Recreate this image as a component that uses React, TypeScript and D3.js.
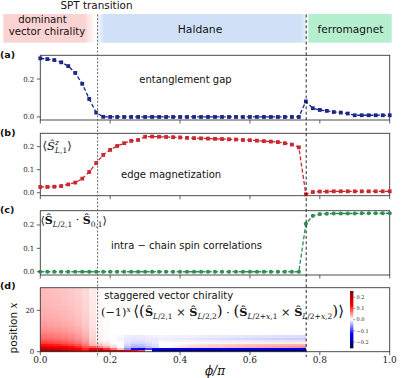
import React from 'react';
import * as d3 from 'd3';

// ---------------- data ----------------
const phi = [0, 0.02, 0.04, 0.06, 0.08, 0.1, 0.12, 0.14, 0.16, 0.18, 0.2, 0.22, 0.24, 0.26, 0.28, 0.3, 0.32, 0.34, 0.36, 0.38, 0.4, 0.42, 0.44, 0.46, 0.48, 0.5, 0.52, 0.54, 0.56, 0.58, 0.6, 0.62, 0.64, 0.66, 0.68, 0.7, 0.72, 0.74, 0.76, 0.78, 0.8, 0.82, 0.84, 0.86, 0.88, 0.9, 0.92, 0.94, 0.96, 0.98, 1.0];

const entGap = [0.309, 0.305, 0.300, 0.288, 0.268, 0.232, 0.175, 0.095, 0.023, 0.001,
  0.0, 0.0, 0.0, 0.0, 0.0, 0.0, 0.0, 0.0, 0.0, 0.0, 0.0, 0.0, 0.0, 0.0, 0.0, 0.0, 0.0, 0.0,
  0.0, 0.0, 0.0, 0.0, 0.0, 0.0, 0.0, 0.0, 0.0, 0.0,
  0.082, 0.046, 0.037, 0.032, 0.026, 0.023, 0.018, 0.009, 0.009, 0.009, 0.009, 0.009, 0.009];

const edgeMag = [0.025, 0.025, 0.026, 0.029, 0.036, 0.044, 0.061, 0.090, 0.129, 0.164,
  0.186, 0.203, 0.215, 0.225, 0.229, 0.243, 0.244, 0.243, 0.242, 0.241, 0.240, 0.238, 0.237, 0.236,
  0.235, 0.234, 0.233, 0.232, 0.231, 0.229, 0.228, 0.226, 0.224, 0.222, 0.220, 0.215, 0.209, 0.197,
  -0.007, 0.003, 0.005, 0.005, 0.006, 0.006, 0.006, 0.006, 0.006, 0.006, 0.006, 0.006, 0.006];

const spinCorr = [0, 0, 0, 0, 0, 0, 0, 0, 0, 0, 0, 0, 0, 0, 0, 0, 0, 0, 0, 0, 0, 0, 0, 0, 0, 0, 0, 0,
  0, 0, 0, 0, 0, 0, 0, 0, 0, 0,
  0.205, 0.239, 0.246, 0.248, 0.249, 0.249, 0.249, 0.249, 0.25, 0.25, 0.25, 0.25, 0.25];

// heatmap (columns start at phi[0..37], rows position 0..30)
const positions = [0, 1, 2, 3, 4, 5, 6, 7, 8, 9, 10, 11, 12, 13, 14, 15, 16, 17, 18, 19, 20, 21, 22, 23, 24, 25, 26, 27, 28, 29, 30];
const redProfile = [0.235, 0.19, 0.15, 0.12, 0.1, 0.088, 0.079, 0.072, 0.066, 0.061, 0.057, 0.054, 0.051, 0.049, 0.047, 0.045, 0.043, 0.042, 0.041, 0.040, 0.039, 0.038, 0.037, 0.036, 0.036, 0.035, 0.035, 0.034, 0.034, 0.033, 0.033];
const redAmp = [1.0, 0.97, 0.93, 0.88, 0.81, 0.72, 0.58, 0.3, 0.08, 0.03, 0.01, 0, 0, 0, 0, 0, 0, 0, 0, 0, 0, 0, 0, 0, 0, 0, 0, 0, 0, 0, 0, 0, 0, 0, 0, 0, 0, 0];
const edgeRow0 = [0, 0, 0, 0, 0, 0, 0, 0.15, 0.21, 0.2, 0.19, 0.18, 0.16, 0.14, 0.1, 0.0, -0.2,
  -0.24, -0.24, -0.24, -0.24, -0.24, -0.24, -0.24, -0.24, -0.24, -0.24, -0.24, -0.24, -0.24, -0.24, -0.24, -0.24, -0.24, -0.24, -0.24, -0.24, -0.24];
const edgeRow1 = [0, 0, 0, 0, 0, 0, 0, 0.08, 0.12, 0.1, 0.07, 0.03, -0.06, -0.12, -0.13, -0.1, -0.14,
  -0.14, -0.14, -0.14, -0.14, -0.14, -0.14, -0.14, -0.14, -0.14, -0.14, -0.14, -0.14, -0.14, -0.14, -0.14, -0.14, -0.14, -0.14, -0.14, -0.14, -0.14];
const edgeRow2 = [0, 0, 0, 0, 0, 0, 0, 0.04, 0.05, 0.04, 0.02, 0.0, -0.03, -0.04, -0.04, -0.03, -0.02,
  0.0, 0.005, 0.01, 0.015, 0.02, 0.022, 0.025, 0.028, 0.03, 0.032, 0.034, 0.036, 0.038, 0.04, 0.042, 0.044, 0.046, 0.048, 0.05, 0.052, 0.055];
const edgeRow3 = [0, 0, 0, 0, 0, 0, 0, 0, 0.02, 0.015, 0.01, 0, -0.02, -0.03, -0.03, -0.02, -0.015,
  0.0, 0.0, 0.004, 0.008, 0.012, 0.015, 0.018, 0.02, 0.022, 0.024, 0.026, 0.028, 0.03, 0.031, 0.032, 0.033, 0.034, 0.035, 0.036, 0.037, 0.038];
const edgeRow4 = [0, 0, 0, 0, 0, 0, 0, 0, 0.01, 0.01, 0, 0, -0.015, -0.02, -0.02, -0.015, -0.01,
  0.0, 0.0, 0.0, 0.002, 0.003, 0.004, 0.005, 0.006, 0.006, 0.007, 0.007, 0.008, 0.008, 0.009, 0.009, 0.01, 0.01, 0.01, 0.01, 0.01, 0.01];
const edgeRow5 = [0, 0, 0, 0, 0, 0, 0, 0, 0, 0, 0, -0.005, -0.01, -0.015, -0.015, -0.012, -0.01,
  -0.005, -0.005, -0.006, -0.006, -0.007, -0.007, -0.008, -0.008, -0.009, -0.009, -0.01, -0.01, -0.01, -0.011, -0.011, -0.012, -0.012, -0.012, -0.013, -0.013, -0.014];
const edgeRow6 = [0, 0, 0, 0, 0, 0, 0, 0, 0, 0, 0, -0.005, -0.01, -0.012, -0.012, -0.01, -0.01,
  -0.008, -0.009, -0.01, -0.011, -0.012, -0.013, -0.014, -0.015, -0.016, -0.017, -0.018, -0.019, -0.02, -0.021, -0.022, -0.022, -0.023, -0.023, -0.024, -0.024, -0.025];
const edgeRow7 = [0, 0, 0, 0, 0, 0, 0, 0, 0, 0, 0, -0.004, -0.008, -0.01, -0.01, -0.008, -0.007,
  -0.005, -0.006, -0.006, -0.007, -0.008, -0.008, -0.009, -0.01, -0.01, -0.011, -0.012, -0.012, -0.013, -0.013, -0.014, -0.014, -0.015, -0.015, -0.016, -0.016, -0.017];
const edgeRows = [edgeRow0, edgeRow1, edgeRow2, edgeRow3, edgeRow4, edgeRow5, edgeRow6, edgeRow7];

const xTicks = [0, 0.2, 0.4, 0.6, 0.8, 1.0];
const xTickLabels = ['0.0', '0.2', '0.4', '0.6', '0.8', '1.0'];
const aTicks = [0, 0.2];
const bTicks = [0, 0.1, 0.2];
const cTicks = [0, 0.1, 0.2];
const dTicks = [0, 20];
const cbTicks = [0.2, 0.1, 0, -0.1, -0.2];
const cbTickLabels = ['0.2', '0.1', '0.0', '\u22120.1', '\u22120.2'];
const sptPhi = 0.164;
const ferroPhi = 0.761;

// ---------------- layout ----------------
const SANS = 'DejaVu Sans';
const SERIF = 'DejaVu Serif';
const x = d3.scaleLinear().domain([0, 1]).range([40.3, 389.7]);
const ya = d3.scaleLinear().domain([-0.016, 0.325]).range([120, 55.3]);
const yb = d3.scaleLinear().domain([-0.013, 0.258]).range([195.7, 133.3]);
const yc = d3.scaleLinear().domain([-0.014, 0.261]).range([275, 210.7]);
const yd = d3.scaleLinear().domain([0, 31]).range([351.7, 287.7]);
const yCb = d3.scaleLinear().domain([-0.256, 0.256]).range([348.3, 291]);
const cmap = d3.scaleLinear<string>()
  .domain([-0.256, -0.128, 0, 0.128, 0.256])
  .range(['#00004c', '#0000ff', '#ffffff', '#ff0000', '#800000'])
  .interpolate(d3.interpolateRgb)
  .clamp(true);

const frame = '#3a3a3a';

function Frame({ y }: { y: d3.ScaleLinear<number, number> }) {
  const [y0, y1] = y.range();
  return (
    <rect x={x(0)} y={y1} width={x(1) - x(0)} height={y0 - y1} fill="none" stroke={frame} strokeWidth={0.9} />
  );
}

function XTicks({ y, labels }: { y: d3.ScaleLinear<number, number>; labels?: boolean }) {
  const yb0 = y.range()[0];
  return (
    <g>
      {xTicks.map((t, i) => (
        <g key={i}>
          <line x1={x(t)} x2={x(t)} y1={yb0} y2={yb0 + 3.5} stroke={frame} strokeWidth={0.8} />
          {labels && (
            <text x={x(t)} y={yb0 + 11.5} textAnchor="middle" fontFamily={SERIF} fontSize={9} fill="#222">
              {xTickLabels[i]}
            </text>
          )}
        </g>
      ))}
    </g>
  );
}

function YTicks({ y, ticks, fmt }: { y: d3.ScaleLinear<number, number>; ticks: number[]; fmt: (v: number) => string }) {
  return (
    <g>
      {ticks.map((t, i) => (
        <g key={i}>
          <line x1={x(0) - 3.5} x2={x(0)} y1={y(t)} y2={y(t)} stroke={frame} strokeWidth={0.8} />
          <text x={x(0) - 6} y={y(t) + 2.5} textAnchor="end" fontFamily={SERIF} fontSize={7} fill="#222">
            {fmt(t)}
          </text>
        </g>
      ))}
    </g>
  );
}

function Series({ y, vals, color, marker }: { y: d3.ScaleLinear<number, number>; vals: number[]; color: string; marker: 'square' | 'circle' }) {
  const line = d3.line<number>().x((_, i) => x(phi[i])).y((v) => y(v));
  return (
    <g>
      <path d={line(vals) || ''} fill="none" stroke={color} strokeWidth={1.3} strokeDasharray="4,2.2" />
      {vals.map((v, i) =>
        marker === 'square' ? (
          <rect key={i} x={x(phi[i]) - 1.9} y={y(v) - 1.9} width={3.8} height={3.8} fill={color} />
        ) : (
          <circle key={i} cx={x(phi[i])} cy={y(v)} r={2.1} fill={color} />
        )
      )}
    </g>
  );
}

export default function App() {
  const cols = phi.slice(0, 38);
  const cells: { c: number; p: number; v: number }[] = [];
  cols.forEach((_, c) => {
    positions.forEach((p) => {
      const v = redAmp[c] * redProfile[p] + (p < 8 ? edgeRows[p][c] : 0);
      cells.push({ c, p, v });
    });
  });
  const cbStops = d3.range(0, 1.0001, 0.05).map((t) => ({ t, v: 0.256 - t * 0.512 }));
  const SUB = 7.5;
  const BIG = 15;

  return (
    <svg width={407} height={378} style={{ position: 'absolute', left: 0, top: 0, background: '#fff' }}>
      <defs>
        <linearGradient id="pinkG" x1="0" x2="1" y1="0" y2="0">
          <stop offset="0" stopColor="#fcd3d3" />
          <stop offset="0.88" stopColor="#fcd3d3" />
          <stop offset="1" stopColor="#fcd3d3" stopOpacity={0} />
        </linearGradient>
        <linearGradient id="blueG" x1="0" x2="1" y1="0" y2="0">
          <stop offset="0" stopColor="#cfe0f7" stopOpacity={0} />
          <stop offset="0.04" stopColor="#cfe0f7" />
          <stop offset="0.97" stopColor="#cfe0f7" />
          <stop offset="1" stopColor="#cfe0f7" stopOpacity={0.5} />
        </linearGradient>
        <linearGradient id="cbG" x1="0" x2="0" y1="0" y2="1">
          {cbStops.map((s, i) => (
            <stop key={i} offset={s.t} stopColor={cmap(s.v)} />
          ))}
        </linearGradient>
      </defs>

      {/* phase bands */}
      <rect x={3.3} y={14} width={92} height={28.7} fill="url(#pinkG)" />
      <rect x={96} y={14} width={210} height={28.7} fill="url(#blueG)" />
      <rect x={308.3} y={14} width={83.4} height={28.7} fill="#b6efd0" />
      <text x={96.5} y={9.3} textAnchor="middle" fontFamily={SANS} fontSize={10.4} fill="#111">SPT transition</text>
      <text x={42.5} y={23.3} textAnchor="middle" fontFamily={SANS} fontSize={10.2} fill="#111">dominant</text>
      <text x={47} y={35} textAnchor="middle" fontFamily={SANS} fontSize={10.2} fill="#111">vector chirality</text>
      <text x={200} y={32.7} textAnchor="middle" fontFamily={SANS} fontSize={10.8} fill="#111">Haldane</text>
      <text x={350.5} y={32.7} textAnchor="middle" fontFamily={SANS} fontSize={10.6} fill="#111">ferromagnet</text>

      {/* (d) heatmap */}
      <g shapeRendering="crispEdges">
        {cells.map((d, i) => (
          <rect key={i} x={x(cols[d.c])} y={yd(d.p + 1)} width={x(cols[d.c] + 0.02) - x(cols[d.c]) + 0.3}
            height={yd(d.p) - yd(d.p + 1) + 0.3} fill={cmap(d.v)} />
        ))}
      </g>

      {/* frames */}
      <Frame y={ya} />
      <Frame y={yb} />
      <Frame y={yc} />
      <Frame y={yd} />

      {/* series */}
      <Series y={ya} vals={entGap} color="#1b2787" marker="square" />
      <Series y={yb} vals={edgeMag} color="#c8282e" marker="square" />
      <Series y={yc} vals={spinCorr} color="#2f8f56" marker="circle" />

      {/* ticks */}
      <XTicks y={ya} />
      <XTicks y={yb} />
      <XTicks y={yc} />
      <XTicks y={yd} labels />
      <YTicks y={ya} ticks={aTicks} fmt={(v) => v.toFixed(1)} />
      <YTicks y={yb} ticks={bTicks} fmt={(v) => v.toFixed(1)} />
      <YTicks y={yc} ticks={cTicks} fmt={(v) => v.toFixed(1)} />
      <YTicks y={yd} ticks={dTicks} fmt={(v) => String(v)} />

      {/* vertical transition lines */}
      <line x1={x(sptPhi)} x2={x(sptPhi)} y1={14.5} y2={357} stroke="#666" strokeWidth={1} strokeDasharray="2,1.6" />
      <line x1={x(ferroPhi)} x2={x(ferroPhi)} y1={14.5} y2={357} stroke="#111" strokeWidth={0.9} strokeDasharray="3,2.4" />

      {/* panel labels */}
      <text x={0} y={58} fontFamily={SANS} fontWeight="bold" fontSize={9.5} fill="#111">(a)</text>
      <text x={0} y={136} fontFamily={SANS} fontWeight="bold" fontSize={9.5} fill="#111">(b)</text>
      <text x={0} y={213.3} fontFamily={SANS} fontWeight="bold" fontSize={9.5} fill="#111">(c)</text>
      <text x={0} y={289} fontFamily={SANS} fontWeight="bold" fontSize={9.5} fill="#111">(d)</text>

      {/* annotations */}
      <text x={139.3} y={82.5} fontFamily={SANS} fontSize={10} fill="#111">entanglement gap</text>
      <text x={121} y={178.3} fontFamily={SANS} fontSize={10} fill="#111">edge magnetization</text>
      <text x={111} y={249.3} fontFamily={SANS} fontSize={10} fill="#111">intra − chain spin correlations</text>
      <text x={104.3} y={299.3} fontFamily={SANS} fontSize={10} fill="#111">staggered vector chirality</text>

      <text x={42.5} y={150} fontFamily={SERIF} fontSize={11.5} fill="#111">
        <tspan>⟨</tspan>
        <tspan fontStyle="italic">Ŝ</tspan>
        <tspan fontSize={7.5} fontStyle="italic" dy={-5}>z</tspan>
        <tspan fontSize={7.5} fontStyle="italic" dx={-3.8} dy={8}>L</tspan>
        <tspan fontSize={7.5}>,1</tspan>
        <tspan dy={-3}>⟩</tspan>
      </text>

      <text x={40.5} y={224} fontFamily={SERIF} fontSize={11} fill="#111">
        <tspan>⟨</tspan>
        <tspan fontWeight="bold">Ŝ</tspan>
        <tspan fontSize={SUB} dy={2.5}><tspan fontStyle="italic">L</tspan>/2,1</tspan>
        <tspan dy={-2.5}> · </tspan>
        <tspan fontWeight="bold">Ŝ</tspan>
        <tspan fontSize={SUB} dy={2.5}>0,1</tspan>
        <tspan dy={-2.5}>⟩</tspan>
      </text>

      <text x={101} y={316} fontFamily={SERIF} fontSize={11.3} fill="#111">
        <tspan>(−1)</tspan>
        <tspan fontSize={SUB} fontStyle="italic" dy={-4.5}>x</tspan>
        <tspan fontSize={BIG} dy={4.5} dx={2.5}>⟨</tspan>
        <tspan fontSize={BIG}>(</tspan>
        <tspan fontWeight="bold">Ŝ</tspan>
        <tspan fontSize={SUB} dy={2.8}><tspan fontStyle="italic">L</tspan>/2,1</tspan>
        <tspan dy={-2.8}> × </tspan>
        <tspan fontWeight="bold">Ŝ</tspan>
        <tspan fontSize={SUB} dy={2.8}><tspan fontStyle="italic">L</tspan>/2,2</tspan>
        <tspan fontSize={BIG} dy={-2.8}>)</tspan>
        <tspan> · </tspan>
        <tspan fontSize={BIG}>(</tspan>
        <tspan fontWeight="bold">Ŝ</tspan>
        <tspan fontSize={SUB} dy={2.8}><tspan fontStyle="italic">L</tspan>/2+<tspan fontStyle="italic">x</tspan>,1</tspan>
        <tspan dy={-2.8}> × </tspan>
        <tspan fontWeight="bold">Ŝ</tspan>
        <tspan fontSize={SUB} dy={2.8}><tspan fontStyle="italic">L</tspan>/2+<tspan fontStyle="italic">x</tspan>,2</tspan>
        <tspan fontSize={BIG} dy={-2.8}>)</tspan>
        <tspan fontSize={BIG}>⟩</tspan>
      </text>

      {/* colorbar */}
      <rect x={350} y={291} width={3.4} height={57.3} fill="url(#cbG)" />
      {cbTicks.map((t, i) => (
        <g key={i}>
          <line x1={353.4} x2={355.2} y1={yCb(t)} y2={yCb(t)} stroke="#333" strokeWidth={0.5} />
          <text x={356.5} y={yCb(t) + 1.7} fontFamily={SERIF} fontSize={5} fill="#222">{cbTickLabels[i]}</text>
        </g>
      ))}

      {/* axis labels */}
      <text transform="translate(16.5,328) rotate(-90)" textAnchor="middle" fontFamily={SANS} fontSize={10.5} fill="#111">
        position <tspan fontFamily={SERIF} fontStyle="italic">x</tspan>
      </text>
      <text x={215} y={374.5} textAnchor="middle" fontFamily={SERIF} fontStyle="italic" fontSize={12} fill="#111">ϕ/π</text>
    </svg>
  );
}
